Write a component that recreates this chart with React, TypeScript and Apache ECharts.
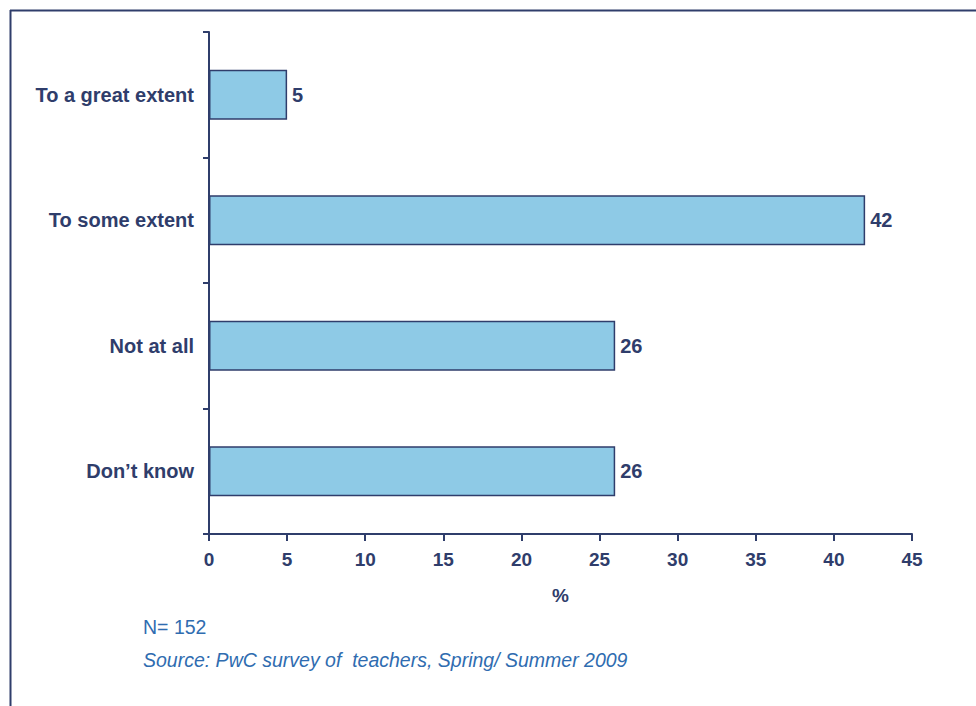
import React, { useEffect, useRef } from "react";
import * as echarts from "echarts";

const categories = ["To a great extent", "To some extent", "Not at all", "Don\u2019t know"];
const values = [5, 42, 26, 26];
const xTicks = [0, 5, 10, 15, 20, 25, 30, 35, 40, 45];
const axisTitle = "%";
const noteN = "N= 152";
const noteSource = "Source: PwC survey of  teachers, Spring/ Summer 2009";

const NAVY = "#2f3d6b";
const BAR = "#8ecae6";
const BLUE = "#2f6cb0";
const FONT = "Liberation Sans, Arial, sans-serif";

export default function App() {
  const ref = useRef<HTMLDivElement>(null);
  useEffect(() => {
    const chart = echarts.init(ref.current!, null, { renderer: "svg" });
    chart.setOption({
      animation: false,
      backgroundColor: "#ffffff",
      textStyle: { fontFamily: FONT },
      grid: { left: 209, top: 32, width: 703, height: 502, containLabel: false },
      xAxis: {
        type: "value",
        min: xTicks[0],
        max: xTicks[xTicks.length - 1],
        interval: 5,
        axisLine: { show: true, lineStyle: { color: NAVY, width: 2 } },
        axisTick: { show: true, length: 7, lineStyle: { color: NAVY, width: 2 } },
        splitLine: { show: false },
        axisLabel: { color: NAVY, fontSize: 19, fontWeight: "bold", margin: 16 },
        name: axisTitle,
        nameLocation: "middle",
        nameGap: 52,
        nameTextStyle: { color: NAVY, fontSize: 19, fontWeight: "bold" },
      },
      yAxis: {
        type: "category",
        data: categories,
        inverse: true,
        axisLine: { show: true, lineStyle: { color: NAVY, width: 2 } },
        axisTick: { show: true, length: 6, lineStyle: { color: NAVY, width: 2 } },
        axisLabel: { color: NAVY, fontSize: 20, fontWeight: "bold", margin: 15 },
      },
      series: [
        {
          type: "bar",
          data: values,
          barWidth: 50,
          itemStyle: { color: BAR, borderColor: NAVY, borderWidth: 1.5 },
          label: {
            show: true,
            position: "right",
            distance: 5,
            color: NAVY,
            fontSize: 20,
            fontWeight: "bold",
          },
        },
      ],
      graphic: [
        { type: "line", shape: { x1: 10.5, y1: 10, x2: 10.5, y2: 706 }, style: { stroke: NAVY, lineWidth: 2 } },
        { type: "line", shape: { x1: 10, y1: 10.5, x2: 976, y2: 10.5 }, style: { stroke: NAVY, lineWidth: 2 } },
        {
          type: "text",
          left: 143,
          top: 617,
          style: { text: noteN, fill: BLUE, fontSize: 19.5, fontFamily: FONT },
        },
        {
          type: "text",
          left: 143,
          top: 650,
          style: {
            text: noteSource,
            fill: BLUE,
            fontSize: 19.5,
            fontStyle: "italic",
            fontFamily: FONT,
          },
        },
      ],
    });
    return () => chart.dispose();
  }, []);
  return (
    <div
      ref={ref}
      style={{ position: "fixed", left: 0, top: 0, width: 976, height: 706 }}
    />
  );
}
